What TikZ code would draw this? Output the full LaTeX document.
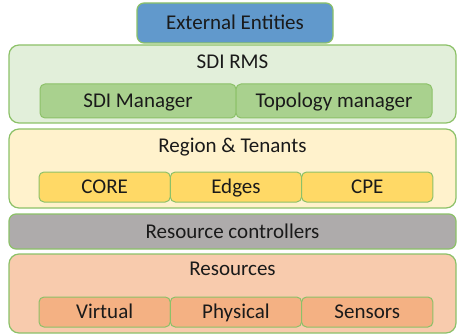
\documentclass[tikz,border=0pt]{standalone}
\usepackage{fontspec}
\setmainfont{Carlito}
\usepackage{xcolor}
\usetikzlibrary{positioning}

\definecolor{lineg}{HTML}{8CC168}
\definecolor{extblue}{HTML}{6199CC}
\definecolor{rmsbg}{HTML}{E2EFDA}
\definecolor{rmspart}{HTML}{A9D18E}
\definecolor{regbg}{HTML}{FFF2CC}
\definecolor{regpart}{HTML}{FFD966}
\definecolor{ctrlgray}{HTML}{AEABAB}
\definecolor{resbg}{HTML}{F8CBAD}
\definecolor{respart}{HTML}{F4B183}
\definecolor{txt}{HTML}{1A1A1A}

\begin{document}
\begin{tikzpicture}[x=1pt, y=1pt,
  every node/.style={text=txt, font=\fontsize{21}{25}\selectfont},
  layer/.style={rectangle, draw=lineg, line width=1.2pt, rounded corners=10pt, minimum width=447pt, minimum height=79pt, inner sep=0pt, outer sep=0pt, text height=13.5pt, text depth=0pt},
  part/.style={rectangle, draw=lineg, line width=1pt, rounded corners=5pt, minimum height=30pt, inner sep=0pt, outer sep=0pt, text height=13.5pt, text depth=0pt},
  ttl/.style={inner sep=0pt}
]
\useasboundingbox (0,0) rectangle (457,335);

% top level
\node[layer, fill=extblue, minimum width=196pt, minimum height=40pt, rounded corners=7pt] (ext) at (235,312) {External Entities};

% SDI RMS
\node[layer, fill=rmsbg, minimum height=78pt] (rms) at (232.5,251) {};
\node[ttl, below=10pt of rms.north] (rmst) {SDI RMS};
\node[part, fill=rmspart, minimum width=196pt, minimum height=34pt] (sdim) at (138,234) {SDI Manager};
\node[part, fill=rmspart, minimum width=196pt, minimum height=34pt, right=0pt of sdim] (topo) {Topology manager};

% regions
\node[layer, fill=regbg] (reg) at (232.5,166.5) {};
\node[ttl, below=9pt of reg.north] (regt) {Region \& Tenants};
\node[part, fill=regpart, minimum width=131.3pt] (core) at (104.65,148) {CORE};
\node[part, fill=regpart, minimum width=131.3pt, right=0pt of core] (edges) {Edges};
\node[part, fill=regpart, minimum width=131.3pt, right=0pt of edges] (cpe) {CPE};

% controllers
\node[layer, fill=ctrlgray, minimum height=35pt, rounded corners=7pt] (ctrl) at (232.5,103.5) {Resource controllers};

% resources
\node[layer, fill=resbg] (res) at (232.5,41.5) {};
\node[ttl, below=8pt of res.north] (rest) {Resources};
\node[part, fill=respart, minimum width=131.3pt] (virt) at (104.65,23) {Virtual};
\node[part, fill=respart, minimum width=131.3pt, right=0pt of virt] (phys) {Physical};
\node[part, fill=respart, minimum width=131.3pt, right=0pt of phys] (sens) {Sensors};
\end{tikzpicture}
\end{document}
